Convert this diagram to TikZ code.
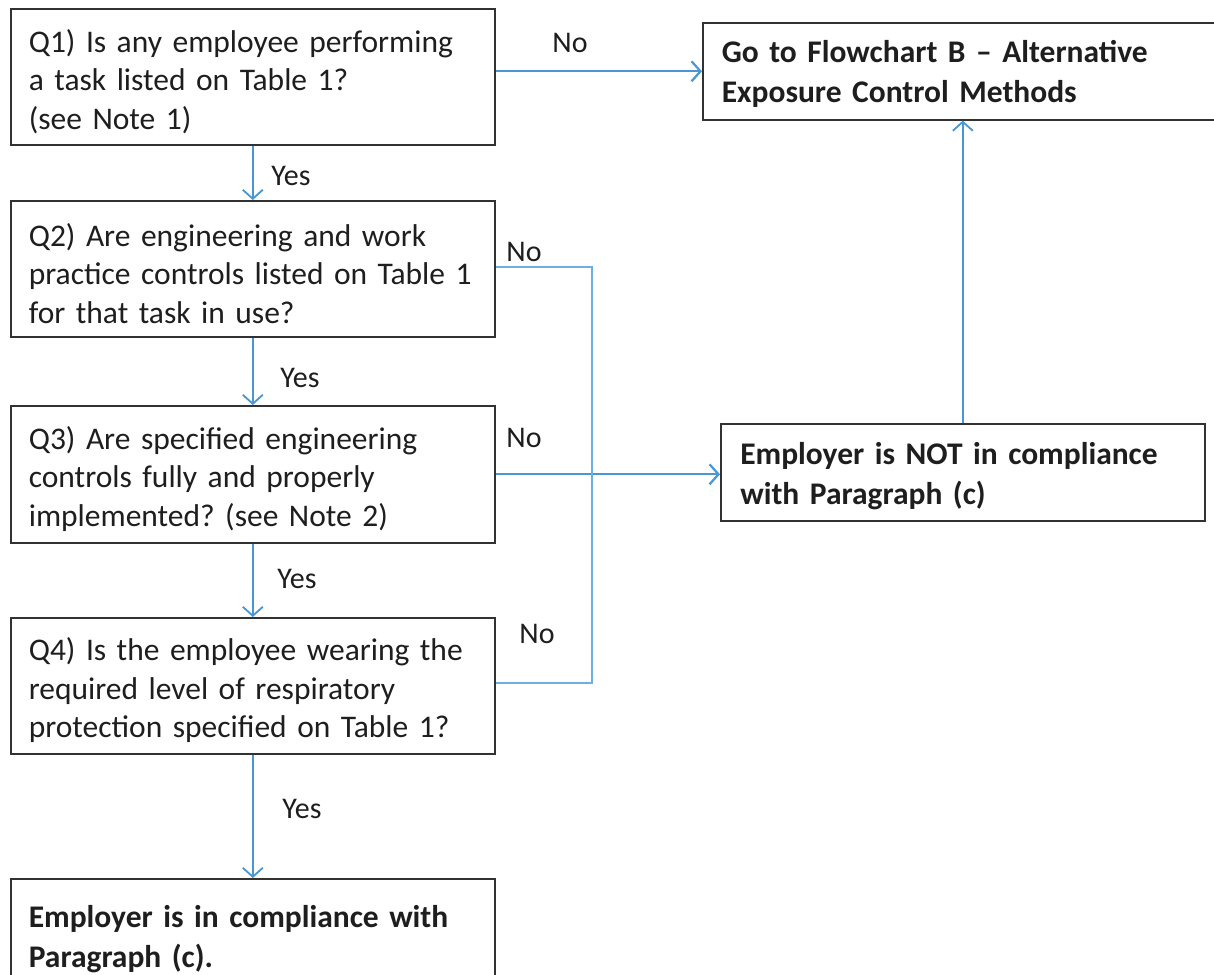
\documentclass[tikz,border=0pt]{standalone}
\usepackage{fontspec}
\setmainfont{Carlito}
\usetikzlibrary{arrows.meta}
\definecolor{conblue}{RGB}{72,150,212}
\definecolor{loopblue}{RGB}{110,175,225}
\definecolor{boxline}{RGB}{50,50,50}
\definecolor{txt}{RGB}{30,30,30}
\newcommand{\topstrut}{\rule{0pt}{32pt}}
\tikzset{
  qbox/.style={draw=boxline, line width=1.6pt, rectangle, anchor=north west,
    inner xsep=18pt, inner ysep=0pt, text width=448pt, align=left,
    minimum width=484pt, text=txt,
    font=\fontsize{31.5}{38.5}\selectfont\frenchspacing},
  bbox/.style={qbox, font=\fontsize{31.5}{40}\selectfont\bfseries},
  arr/.style={draw=conblue, line width=2.2pt, -{Straight Barb[length=9pt,width=20pt]}},
  loopline/.style={draw=loopblue, line width=1.7pt},
  lbl/.style={text=txt, inner sep=0pt, font=\fontsize{30}{36}\selectfont}
}
\begin{document}
\begin{tikzpicture}[x=1pt,y=-1pt]
\useasboundingbox (0,0) rectangle (1214,974);
\clip (0,0) rectangle (1214,974);
\fill[white] (0,0) rectangle (1214,974);

\node[qbox, minimum height=136pt] (q1) at (10,8)
  {\topstrut Q1) Is any employee performing\\a task listed on Table 1?\\(see Note 1)};
\node[qbox, minimum height=136pt] (q2) at (10,200)
  {\topstrut Q2) Are engineering and work\\practice controls listed on Table 1\\for that task in use?};
\node[qbox, minimum height=137pt] (q3) at (10,405)
  {\topstrut Q3) Are specified engineering\\controls fully and properly\\implemented? (see Note 2)};
\node[qbox, minimum height=136pt] (q4) at (10,617)
  {\topstrut Q4) Is the employee wearing the\\required level of respiratory\\protection specified on Table 1?};
\node[bbox, minimum height=120pt] (ok) at (10,878)
  {Employer is in compliance with\\Paragraph (c).};
\node[bbox, minimum height=97pt, text width=502pt, minimum width=540pt] (fb) at (702,22)
  {\rule{0pt}{28pt}Go to Flowchart B -- Alternative\\Exposure Control Methods};
\node[bbox, minimum height=97pt, inner xsep=19pt, text width=445pt] (nc) at (720,423)
  {\rule{0pt}{30pt}Employer is NOT in compliance\\with Paragraph (c)};

% Yes arrows
\draw[arr, line width=1.8pt] (q1.south) -- (q2.north);
\draw[arr, line width=1.8pt] (q2.south) -- (q3.north);
\draw[arr, line width=1.8pt] (q3.south) -- (q4.north);
\draw[arr, line width=1.8pt] (q4.south) -- (ok.north);

% No arrows
\draw[arr] (q1.east |- fb.west) -- (fb.west);
\draw[arr] (q3.east) -- (q3.east -| nc.west);
\draw[arr, line width=1.8pt] (nc.north) -- (nc.north |- fb.south);

% Q2/Q4 No loop
\coordinate (lt) at (592,267);
\coordinate (lb) at (592,683);
\draw[loopline] (q2.east |- lt) -- (lt) -- (lb) -- (q4.east |- lb);

% labels
\node[lbl] (n1) at (570,43) {No};
\node[lbl] (y1) at (291,176) {Yes};
\node[lbl] (n2) at (524,252) {No};
\node[lbl] (y2) at (300,378) {Yes};
\node[lbl] (n3) at (524,438) {No};
\node[lbl] (y3) at (297,579) {Yes};
\node[lbl] (n4) at (537,634) {No};
\node[lbl] (y4) at (302,809) {Yes};
\end{tikzpicture}
\end{document}
